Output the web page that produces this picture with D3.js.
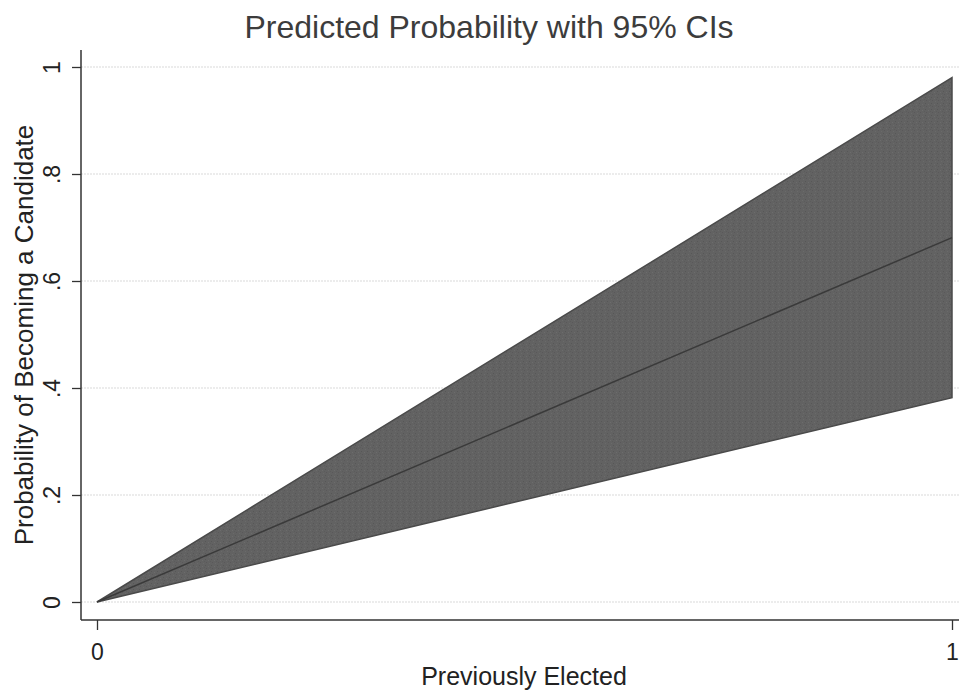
<!DOCTYPE html>
<html>
<head>
<meta charset="utf-8">
<script src="https://cdn.jsdelivr.net/npm/d3@7"></script>
<style>
  html, body { margin: 0; padding: 0; background: #fff; }
  svg { display: block; font-family: "Liberation Sans", Arial, sans-serif; }
</style>
</head>
<body>
<svg id="chart" width="959" height="691"></svg>
<script>
// Predicted probability at each value of "Previously Elected", with 95% CI
const xValues   = [0, 1];
const predicted = [0.0, 0.681];
const ciLower   = [0.0, 0.382];
const ciUpper   = [0.0, 0.980];

const yTickValues = [0, 0.2, 0.4, 0.6, 0.8, 1];
const yTickLabels = ["0", ".2", ".4", ".6", ".8", "1"];
const xTickValues = [0, 1];
const xTickLabels = ["0", "1"];

const titleText  = "Predicted Probability with 95% CIs";
const xAxisTitle = "Previously Elected";
const yAxisTitle = "Probability of Becoming a Candidate";

const svg = d3.select("#chart");

const plotLeft = 81, plotRight = 959, plotTop = 50, plotBottom = 620;

const x = d3.scaleLinear().domain([0, 1]).range([97, 952]);
const y = d3.scaleLinear().domain([0, 1]).range([602, 67]);

// speckled fill for the confidence band
const defs = svg.append("defs");
const pat = defs.append("pattern")
  .attr("id", "speckle").attr("patternUnits", "userSpaceOnUse")
  .attr("width", 6).attr("height", 6);
pat.append("rect").attr("width", 6).attr("height", 6).attr("fill", "#626262");
[[1,1,"#575757"],[4,2,"#6c6c6c"],[2,4,"#5a585a"],[5,5,"#6a6a6a"],[0,3,"#5c5c5c"]]
  .forEach(([px, py, c]) => pat.append("rect").attr("x", px).attr("y", py)
    .attr("width", 1).attr("height", 1).attr("fill", c));

// horizontal gridlines
svg.append("g").selectAll("line").data(yTickValues).join("line")
  .attr("x1", plotLeft).attr("x2", plotRight)
  .attr("y1", d => y(d)).attr("y2", d => y(d))
  .attr("stroke", "#e6e6e6").attr("stroke-width", 1.5)
  .attr("stroke-dasharray", "2,1");

const data = xValues.map((v, i) => ({ x: v, p: predicted[i], lo: ciLower[i], hi: ciUpper[i] }));

// confidence band
const area = d3.area().x(d => x(d.x)).y0(d => y(d.lo)).y1(d => y(d.hi));
svg.append("path").datum(data)
  .attr("d", area)
  .attr("fill", "url(#speckle)")
  .attr("stroke", "#4a4a4a").attr("stroke-width", 1.5)
  .attr("stroke-linejoin", "miter");

// predicted probability line
const line = d3.line().x(d => x(d.x)).y(d => y(d.p));
svg.append("path").datum(data)
  .attr("d", line)
  .attr("fill", "none")
  .attr("stroke", "#3a3a3a").attr("stroke-width", 1.5);

// y axis: ticks from the scale, labels rotated to run along the axis
const yAxis = d3.axisLeft(y).tickValues(yTickValues)
  .tickFormat((d, i) => yTickLabels[i]).tickSize(9);
const gy = svg.append("g").attr("transform", `translate(${plotLeft},0)`).call(yAxis);
gy.select(".domain").remove();
gy.selectAll(".tick line").attr("stroke", "#333").attr("stroke-width", 1.3);
gy.selectAll(".tick text")
  .attr("font-size", 23).attr("fill", "#222")
  .attr("text-anchor", "middle")
  .attr("x", 0).attr("y", 0).attr("dy", 0)
  .attr("transform", "translate(-21,0) rotate(-90)");
svg.append("line")
  .attr("x1", plotLeft).attr("x2", plotLeft)
  .attr("y1", plotTop).attr("y2", plotBottom)
  .attr("stroke", "#333").attr("stroke-width", 1.5);

// x axis
const xAxis = d3.axisBottom(x).tickValues(xTickValues)
  .tickFormat((d, i) => xTickLabels[i]).tickSize(10);
const gx = svg.append("g").attr("transform", `translate(0,${plotBottom})`).call(xAxis);
gx.select(".domain").remove();
gx.selectAll(".tick line").attr("stroke", "#333").attr("stroke-width", 1.3);
gx.selectAll(".tick text")
  .attr("font-size", 23).attr("fill", "#222")
  .attr("y", 40).attr("dy", 0);
svg.append("line")
  .attr("x1", plotLeft).attr("x2", plotRight)
  .attr("y1", plotBottom).attr("y2", plotBottom)
  .attr("stroke", "#333").attr("stroke-width", 1.5);

// titles
svg.append("text")
  .attr("x", 489).attr("y", 38)
  .attr("text-anchor", "middle")
  .attr("font-size", 32).attr("fill", "#3c3c3c")
  .text(titleText);

svg.append("text")
  .attr("x", 524).attr("y", 685)
  .attr("text-anchor", "middle")
  .attr("font-size", 25).attr("fill", "#222")
  .text(xAxisTitle);

svg.append("text")
  .attr("transform", "translate(33,335) rotate(-90)")
  .attr("text-anchor", "middle")
  .attr("font-size", 26).attr("fill", "#222")
  .text(yAxisTitle);
</script>
</body>
</html>
